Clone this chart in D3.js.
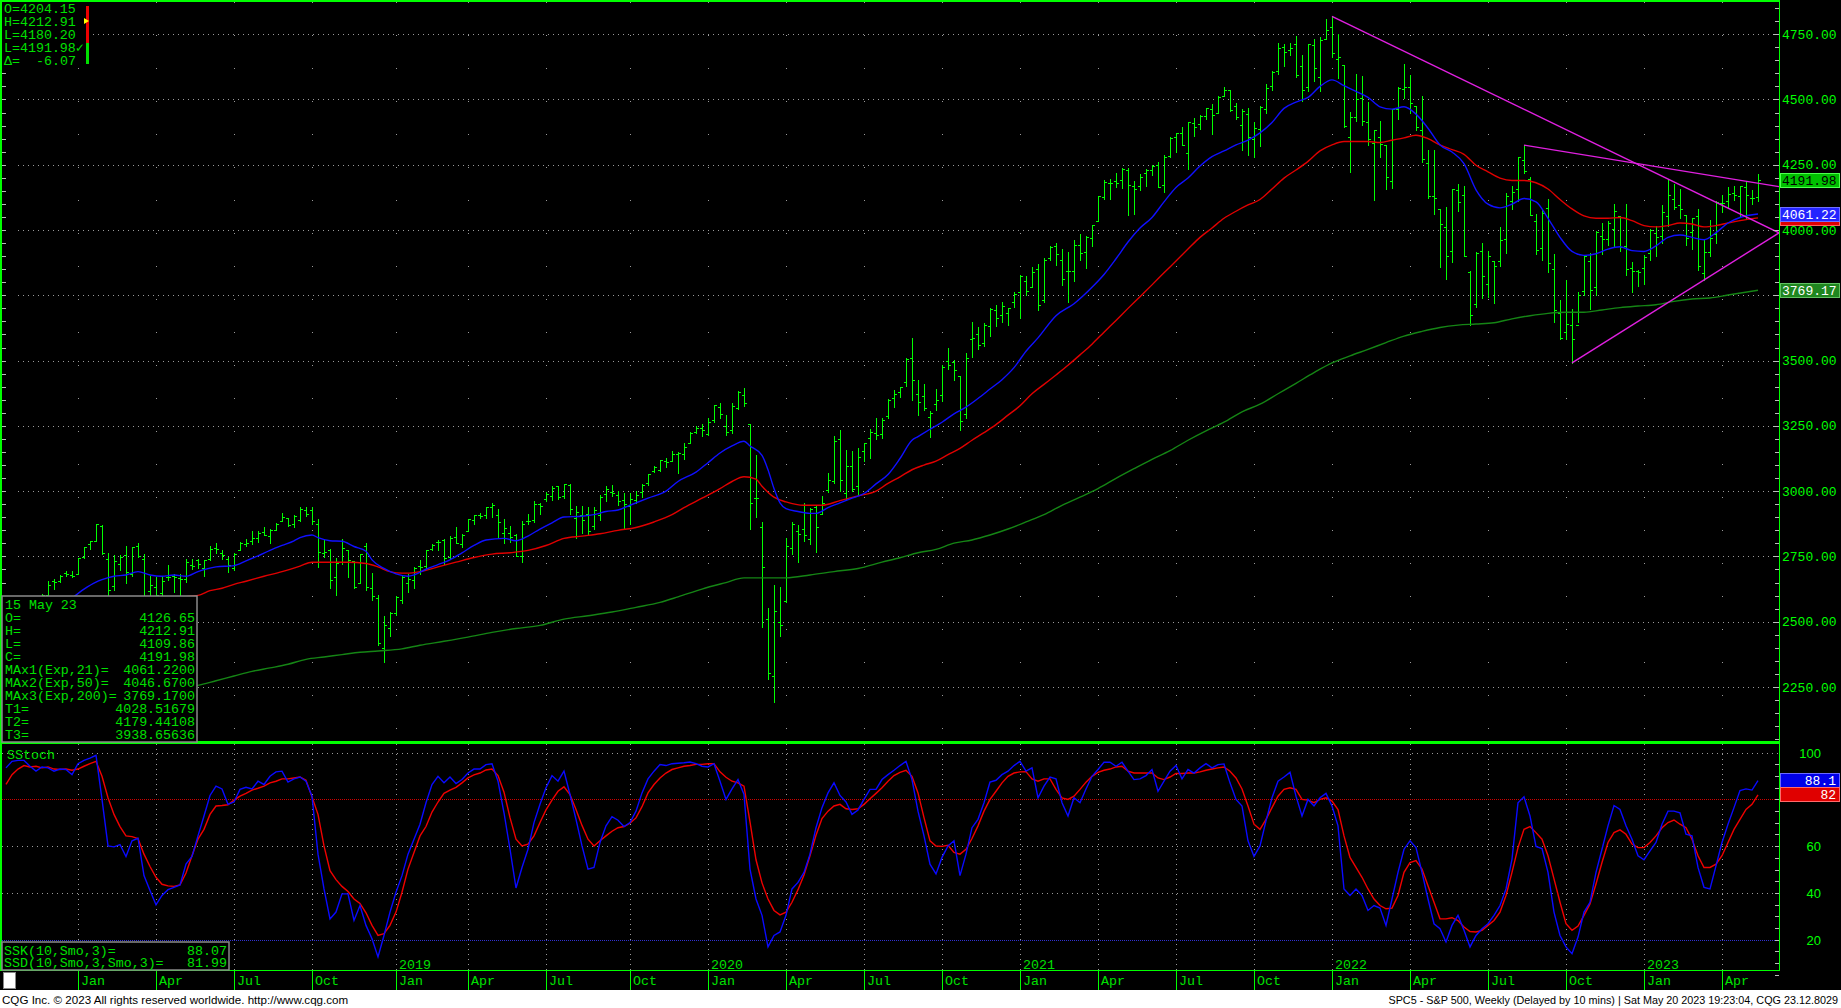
<!DOCTYPE html>
<html><head><meta charset="utf-8">
<script src="https://cdn.jsdelivr.net/npm/d3@7/dist/d3.min.js"></script>
<style>html,body{margin:0;padding:0;background:#000;overflow:hidden}svg{display:block}</style>
</head><body>
<svg id="chart" width="1841" height="1008" xmlns="http://www.w3.org/2000/svg"></svg>
<script>
// ---------------- DATA (weekly S&P 500, first bar = week of 2017-10-09) ----------------
const firstWeekISO = "2017-10-09";
const opens = [
2550,2555,2578,2583,2588,2580,2582,2603,2657,2655,2685,2679,
2684,2746,2799,2810,2867,2741,2636,2722,2757,2681,2791,2741,2619,2634,2611,2670,2675,2669,2663,2718,2735,2706,2741,2781,2765,2742,2704,2776,2797,2808,2821,2845,2827,2853,2885,2897,2875,2891,2926,2926,2876,2764,2774,2671,2727,2773,2733,2650,2790,2630,2591,2401,2476,
2535,2583,2650,2659,2713,2712,2780,2805,2814,2747,2823,2796,2848,2888,2908,2907,2941,2908,2840,2841,2831,2752,2886,2889,2952,2971,2980,3018,2983,3024,2898,2907,2913,2867,2910,2989,2997,2984,2967,2944,2965,2997,3033,3078,3081,3117,3117,3144,3141,3183,3227,3240,
3217,3271,3321,3248,3235,3318,3370,3257,2974,2863,2509,2291,2498,2578,2782,2846,2854,2815,2940,2913,3005,3038,3199,2993,3095,3018,3155,3205,3224,3219,3289,3357,3380,3419,3509,3371,3363,3285,3333,3367,3500,3494,3441,3297,3583,3601,3566,3634,3694,3675,3684,3723,
3764,3803,3781,3851,3732,3892,3939,3886,3842,3845,3943,3916,3969,4034,4125,4179,4186,4192,4229,4170,4170,4217,4229,4248,4174,4285,4356,4373,4296,4410,4407,4438,4462,4450,4514,4536,4474,4402,4443,4348,4386,4463,4553,4610,4701,4689,4712,4628,4548,4710,4587,4733,
4778,4656,4632,4357,4432,4506,4413,4332,4355,4327,4188,4462,4541,4547,4474,4385,4255,4130,4082,4013,3920,4152,4134,3839,3716,3920,3793,3880,3883,3966,4112,4156,4270,4195,4034,3930,4084,3849,3682,3610,3636,3638,3765,3881,3780,3978,3966,4005,4053,3940,3853,3843,
3853,3911,3988,3979,4055,4119,4096,4056,3992,4055,3835,3917,3983,4102,4110,4140,4132,4166,4124,4126.65];
const highs = [
2555,2576,2582,2588,2597,2590,2605,2657,2665,2680,2695,2693,
2744,2787,2811,2873,2871,2764,2755,2754,2790,2787,2802,2761,2675,2672,2676,2718,2683,2682,2742,2742,2742,2737,2791,2801,2774,2746,2764,2804,2816,2848,2849,2863,2855,2877,2916,2898,2909,2941,2939,2940,2892,2816,2779,2745,2816,2775,2733,2760,2800,2686,2601,2520,2539,
2598,2675,2681,2710,2738,2776,2796,2814,2816,2830,2861,2836,2893,2910,2917,2940,2954,2932,2892,2868,2835,2885,2911,2964,2956,2996,3018,3018,3028,3029,2945,2943,2940,2941,2985,3021,3022,2999,2993,2993,3000,3027,3067,3097,3121,3128,3154,3150,3183,3226,3248,3259,
3282,3330,3338,3293,3337,3385,3394,3259,3137,2883,2554,2641,2632,2819,2880,2870,2955,2934,2945,2981,3068,3212,3233,3156,3155,3166,3186,3238,3280,3280,3352,3387,3400,3509,3588,3425,3409,3307,3393,3482,3550,3502,3441,3530,3646,3628,3645,3702,3712,3726,3703,3761,
3827,3823,3860,3870,3894,3938,3950,3929,3914,3960,3983,3978,4020,4130,4192,4195,4219,4238,4237,4188,4213,4234,4249,4262,4286,4356,4372,4393,4415,4429,4441,4468,4481,4514,4546,4536,4486,4465,4466,4412,4476,4560,4608,4718,4714,4718,4744,4672,4714,4731,4741,4808,
4819,4749,4632,4453,4596,4589,4490,4385,4416,4327,4465,4546,4637,4594,4475,4513,4308,4307,4082,4090,4159,4178,4168,3843,3914,3951,3918,3880,4013,4140,4167,4281,4325,4203,4062,4076,4119,3907,3733,3807,3698,3762,3905,3912,3998,4028,4034,4101,4053,4101,3877,3846,
3906,4003,4015,4095,4195,4176,4159,4056,4048,4079,3963,4039,4110,4134,4164,4170,4170,4187,4154,4212.91];
const lows = [
2543,2547,2544,2566,2566,2557,2578,2597,2624,2651,2676,2670,
2683,2745,2778,2808,2758,2533,2622,2698,2647,2676,2749,2586,2594,2553,2587,2660,2612,2594,2652,2701,2707,2676,2736,2764,2742,2692,2698,2774,2790,2796,2805,2832,2802,2850,2885,2865,2864,2887,2904,2875,2710,2749,2628,2604,2722,2671,2631,2649,2621,2584,2409,2347,2444,
2524,2570,2612,2631,2682,2705,2774,2775,2722,2740,2800,2785,2848,2873,2896,2898,2901,2825,2801,2805,2750,2728,2873,2880,2912,2964,2966,2970,2973,2914,2822,2840,2834,2856,2891,2964,2980,2946,2856,2874,2953,2979,3023,3074,3079,3091,3115,3070,3123,3183,3224,3213,
3215,3264,3280,3214,3224,3315,3328,2855,2902,2479,2281,2192,2447,2577,2761,2727,2810,2798,2767,2913,2996,3032,2999,2965,2999,2985,3114,3128,3199,3204,3280,3323,3359,3404,3350,3293,3311,3209,3310,3345,3468,3425,3234,3280,3512,3543,3557,3595,3633,3647,3636,3707,
3663,3750,3781,3694,3725,3884,3866,3789,3723,3806,3884,3853,3937,4034,4118,4118,4165,4160,4057,4061,4155,4168,4210,4165,4144,4278,4300,4327,4233,4360,4386,4425,4368,4450,4513,4457,4427,4306,4289,4279,4323,4448,4537,4596,4630,4672,4585,4495,4532,4571,4532,4733,
4663,4582,4395,4223,4417,4401,4327,4115,4279,4157,4161,4424,4507,4450,4382,4262,4124,4062,3859,3811,3876,4074,3900,3637,3705,3741,3743,3722,3863,3911,4080,4112,4218,4057,3907,3886,3838,3648,3584,3584,3492,3647,3752,3698,3750,3907,3943,3940,3918,3828,3764,3784,
3795,3885,3902,3950,4015,4080,4048,3943,3928,3846,3809,3900,3952,4069,4086,4114,4049,4048,4098,4109.86];
const closes = [
2553,2575,2581,2588,2582,2579,2602,2642,2652,2676,2683,2674,
2743,2786,2810,2873,2762,2620,2732,2747,2691,2787,2752,2588,2641,2604,2656,2670,2670,2663,2728,2713,2721,2735,2779,2779,2755,2718,2760,2801,2802,2819,2840,2833,2850,2875,2902,2872,2905,2930,2914,2886,2767,2768,2659,2723,2781,2736,2633,2760,2633,2600,2417,2486,2532,
2596,2671,2665,2707,2708,2776,2793,2804,2743,2822,2801,2834,2893,2907,2905,2940,2946,2881,2860,2826,2752,2873,2887,2950,2942,2990,3014,2977,3026,2932,2919,2889,2847,2926,2979,3007,2992,2962,2952,2970,2986,3023,3067,3093,3120,3110,3141,3146,3169,3221,3240,3235,
3265,3330,3295,3226,3328,3380,3338,2954,2972,2711,2305,2541,2489,2790,2875,2837,2831,2930,2864,2955,3044,3194,3041,3098,3009,3130,3185,3225,3216,3271,3351,3373,3397,3508,3427,3341,3319,3298,3348,3477,3484,3465,3270,3509,3585,3558,3638,3699,3663,3709,3703,3756,
3825,3768,3841,3714,3887,3935,3907,3811,3842,3943,3913,3975,4020,4129,4185,4180,4181,4233,4174,4156,4204,4230,4247,4166,4281,4352,4370,4327,4412,4395,4437,4468,4442,4509,4535,4459,4433,4455,4357,4391,4471,4545,4605,4698,4683,4698,4595,4538,4712,4621,4726,4766,
4677,4663,4398,4432,4501,4419,4349,4385,4329,4204,4463,4543,4546,4488,4393,4272,4132,4123,4024,3901,4158,4109,3901,3675,3912,3825,3899,3863,3962,4130,4145,4280,4228,4058,3924,4067,3873,3693,3586,3640,3583,3753,3901,3771,3993,3965,4026,4072,3934,3852,3845,3840,
3895,3999,3973,4071,4136,4090,4079,3970,4046,3862,3917,3971,4109,4105,4138,4134,4169,4136,4124,4191.98];

// moving averages: [weeks after 2018-01-01, value]
const ema21 = [[-1,2590],[1,2625],[3,2652],[4,2661],[6,2674],[8,2679],[10,2692],[12,2679],[14,2674],[16,2679],[18,2674],[20,2692],[23,2710],[26,2715],[28,2733],[30,2752],[32,2773],[34,2792],[36,2810],[37,2822],[39,2832],[40,2822],[42,2810],[44,2808],[46,2788],[48,2770],[49,2737],[51,2704],[53,2683],[55,2674],[56,2679],[58,2701],[60,2719],[62,2737],[64,2764],[66,2792],[68,2813],[71,2819],[73,2810],[75,2828],[77,2855],[79,2879],[81,2901],[84,2904],[86,2910],[88,2922],[90,2928],[92,2946],[95,2973],[98,3000],[100,3037],[103,3073],[105,3109],[107,3146],[109,3173],[111,3191],[112,3173],[114,3137],[115,3082],[116,3010],[117,2955],[118,2933],[120,2922],[122,2915],[123,2915],[125,2937],[127,2955],[129,2973],[131,2991],[133,3028],[135,3064],[137,3125],[139,3195],[140,3209],[142,3237],[144,3264],[146,3296],[148,3322],[150,3355],[152,3391],[154,3427],[156,3473],[158,3536],[160,3587],[163,3672],[166,3718],[169,3781],[171,3830],[173,3890],[175,3954],[177,4008],[179,4048],[181,4108],[183,4163],[185,4199],[187,4245],[189,4281],[191,4303],[193,4326],[195,4344],[197,4372],[199,4412],[201,4466],[203,4490],[205,4508],[207,4550],[209,4575],[211,4553],[213,4531],[215,4508],[217,4472],[219,4463],[221,4472],[223,4444],[225,4390],[227,4326],[229,4299],[231,4254],[233,4154],[235,4099],[237,4085],[239,4099],[241,4121],[243,4108],[245,4045],[247,3972],[249,3918],[251,3903],[253,3909],[255,3927],[257,3936],[259,3921],[261,3918],[263,3939],[265,3972],[267,3981],[269,3972],[271,3963],[273,3990],[275,4027],[277,4048],[280,4061.22]];
const ema50 = [[10,2570],[14,2590],[20,2601],[22,2619],[24,2628],[26,2643],[28,2655],[31,2674],[34,2692],[37,2713],[39,2728],[42,2728],[45,2728],[48,2723],[50,2710],[52,2692],[54,2686],[55,2686],[57,2692],[60,2710],[63,2728],[66,2746],[69,2759],[72,2764],[75,2773],[78,2792],[81,2819],[84,2828],[87,2837],[90,2850],[93,2861],[96,2882],[99,2910],[101,2937],[104,2973],[107,3010],[109,3037],[111,3055],[113,3046],[114,3019],[116,2977],[118,2959],[121,2946],[124,2946],[127,2964],[130,2982],[133,3000],[135,3030],[137,3055],[139,3082],[141,3100],[143,3115],[145,3140],[147,3164],[149,3195],[151,3224],[153,3255],[155,3291],[157,3327],[159,3373],[161,3409],[163,3445],[165,3482],[167,3522],[169,3563],[171,3609],[173,3654],[175,3700],[177,3745],[179,3790],[181,3836],[183,3881],[185,3927],[187,3972],[189,4008],[191,4045],[193,4072],[195,4096],[197,4117],[199,4157],[201,4199],[203,4230],[205,4263],[207,4303],[209,4326],[211,4339],[213,4339],[215,4339],[217,4335],[219,4344],[221,4353],[223,4363],[225,4350],[227,4326],[229,4308],[231,4290],[233,4248],[235,4223],[237,4199],[239,4190],[241,4190],[243,4181],[245,4157],[247,4117],[249,4081],[251,4054],[253,4045],[255,4045],[257,4048],[259,4036],[261,4017],[263,4012],[265,4017],[267,4027],[269,4023],[271,4012],[273,4017],[275,4027],[277,4036],[280,4046.67]];
const ema200 = [[18,2245],[20,2256],[23,2274],[26,2292],[29,2310],[32,2323],[35,2337],[38,2356],[41,2365],[44,2374],[47,2383],[50,2388],[54,2396],[57,2410],[61,2425],[65,2441],[69,2459],[73,2474],[77,2486],[81,2510],[85,2523],[89,2537],[93,2555],[97,2574],[100,2595],[104,2625],[108,2650],[111,2668],[114,2668],[118,2668],[122,2679],[126,2692],[130,2704],[134,2728],[137,2745],[140,2764],[143,2777],[146,2801],[149,2813],[152,2832],[155,2855],[158,2882],[161,2910],[164,2946],[167,2977],[170,3010],[173,3049],[176,3086],[179,3122],[182,3155],[185,3195],[188,3231],[191,3264],[194,3304],[197,3333],[200,3373],[203,3413],[206,3454],[209,3491],[212,3518],[215,3543],[218,3569],[221,3594],[224,3612],[227,3627],[230,3636],[233,3640],[236,3645],[239,3660],[242,3672],[245,3681],[248,3685],[251,3685],[254,3694],[257,3703],[260,3709],[263,3714],[266,3727],[269,3736],[272,3740],[275,3751],[280,3769.17]];
const emaLast = [4061.22, 4046.67, 3769.17];

// trend lines
const trendStart = ["2022-01-03","2022-08-15","2022-10-10"];
const trendStartVal = [4818.62, 4325.28, 3491.58];
const trendLastVal = [4028.51679, 4179.44108, 3938.65636];

// smoothed stochastic, weekly
const stochK = [
93.5,96.3,96.7,96.7,94.2,92.1,93.9,93.5,92.1,93,92.8,90.6,
95.3,96.7,97.7,98.9,80,60.1,59.7,60.7,55.6,62.3,
63.4,47.4,41,34.9,38.9,41.4,42.4,43.4,52.3,55.6,
64.4,72.9,81.7,85.7,84.5,77.9,78.9,84.3,85.2,84.5,
87.8,86.4,89.9,91.8,92.1,87.4,88.8,89.6,87.8,81.4,
56.6,41.7,28.9,31.8,39.6,39.6,28.2,34.6,26.1,20.4,
12.6,21.8,31.8,40.3,47.4,56.6,63,69.4,78.6,86.4,
89.9,87.1,89.6,86.8,88.5,91.3,93,93,94.9,95.3,
87.8,74.3,58.7,42.1,50.9,58.7,70.1,77.9,85,90.2,
87.8,92.1,82.1,71.5,60.1,50.2,50.9,61.6,68.7,72.6,
71.1,68.4,70.1,75,82.8,88.8,92.1,94.9,94.5,95.3,
95.5,95.7,96,95.3,94.2,93.9,95.3,87.8,80,84.5,
88.5,82.1,50.2,37.4,30.4,16.9,21.8,23.3,30.4,41.7,
44.5,48.8,56.6,67.9,76.5,82.8,87.1,81.7,78.9,73.6,
75.5,80,84.3,84.3,88.5,90.6,92.5,94.5,96.3,88.5,
75,64.4,52.3,48.1,55.2,60.1,62.3,47.4,56.6,67.9,
71.5,78.6,87.4,88.2,90.6,92.1,94.5,96.3,92.1,93.5,
80.7,85.7,89.6,88.8,78.6,72.9,80.7,78.6,84.5,89.9,
92.8,95.9,95.9,94.2,95.9,92.1,88.5,88.8,90.2,92.8,
83.5,87.8,92.1,94.5,88.8,92.8,91.3,93.5,95.3,93.5,
94.9,95.2,87.1,80,77.2,62.3,55.6,60.1,70.8,80.7,
87.8,89.6,91.6,81.4,72.9,80,77.2,80.7,82.6,77.2,
68.7,41.7,38.9,41.7,38.9,32.5,34.6,33.5,26.1,37.4,
48.8,58.7,62.3,59.4,48.8,37.4,26.8,24.7,19,26.1,
30.4,24,16.9,21.8,24.7,26.8,30.4,34.6,41.7,54.5,
78.6,81.1,72.9,59.9,59,48.8,31.8,21.8,16.9,14,
21.1,31.8,36,48.8,58.7,68.7,77.4,75.7,68.7,63,
55.9,54.2,58,61.6,69.4,75,75,74.3,65.1,64.4,
50.9,42.4,41.7,51.6,61.6,69.4,76.5,83.8,84.5,84,
88.07];
const stochD = [
86.4,90.6,93,94.5,93.9,94.2,93.5,93.9,93,92.8,93,92.5,
93,94.2,95.3,96.3,89.9,80.7,73.6,68.4,64.4,64.1,
63.3,56.6,51.3,46.7,43.7,43,42.8,43.4,48.5,55.9,
63,67.2,73.6,77.2,77.4,77.7,79.7,81.4,82.6,84,
84.8,85.7,87.1,87.8,88.8,88.8,89.2,89.6,88.2,81.1,
73.6,60.1,49.5,45.7,42.8,40.6,37.4,35.5,31.5,26.1,
21.8,22.6,26.1,31.8,40.3,50.2,57.3,64.4,68.4,74.6,
78.9,82.6,84,85.2,87.1,89.2,90.5,91.3,92.6,93,
90.2,83.1,72.2,63,60.1,60.9,64.4,70.1,75.5,79.7,
83.5,85.4,82.1,75.7,68.9,63,60.1,62.3,64.4,66.4,
67.9,68.4,69.8,72.1,76.9,82.8,86.4,89.2,91.3,92.8,
93.5,94.2,94.5,95,95,95.3,95.3,91.8,89.5,87.8,
87.1,85.7,70.4,54.2,44.3,37.4,32.5,30.6,31.8,36,
41.4,47.7,55.9,64.7,71.8,75,77.2,77.9,76,75.7,
76,77.9,80.3,82.6,85,87.8,90.2,91.6,92.5,89.9,
82.8,72.2,62.3,60.1,59.9,60.4,57.3,56.6,58.7,63.3,
68.7,75,80,83.5,87.1,89.9,91.3,91.8,91.9,88.8,
87.8,88.8,88.8,84.3,80.7,80,81.4,84.3,87.4,89.9,
91.6,92.5,93,93.9,94.2,92.1,91.3,91.3,91.3,91.3,
89.2,88.5,89.6,91.1,91.1,91.3,91.3,91.8,92.5,93,
93.5,93.9,92.1,89.2,84.5,77.2,69.4,67.2,71.5,76.5,
81.4,84.3,85,84.3,80,79.7,78.6,80,80.7,79.3,
75.7,64.4,55.2,50.9,46.7,41.7,37.4,34.6,33.2,33.5,
38.9,48.8,53,53.8,50.2,43.1,36,28.9,28.9,29.4,
28.2,25.4,23.5,23.3,24,26.1,28.2,31.8,38.9,48.8,
59.4,67.2,68.4,65.8,63,55.9,46,36,26.8,24,
25.8,30.4,35.3,43.8,53,61.6,65.8,67,65.1,60.9,
59.4,59.4,61.6,64.4,67.9,70.1,71.2,69.4,67.9,63,
55.9,50.9,50.9,52.3,55.9,61.6,67.2,71.5,75.7,77.9,
81.99];

// axis tick values & texts
const priceTicks = [2250,2500,2750,3000,3250,3500,3750,4000,4250,4500,4750];
const stochTicks = [20,40,60,100];
const monthNames = ["Jan","Apr","Jul","Oct"];
const lastTickLabels = ["O=","H=","L=","L="];
const lastTickVals = [4204.15, 4212.91, 4180.20, 4191.98];
const lastTickChange = -6.07;
const footerLeft = "CQG Inc. \u00A9 2023 All rights reserved worldwide. http://www.cqg.com";
const footerRight = "SPC5 - S&P 500, Weekly (Delayed by 10 mins) | Sat May 20 2023 19:23:04, CQG 23.12.8029";

// ---------------- RENDER ----------------
const MONO = "'Liberation Mono','DejaVu Sans Mono',monospace";
const SANS = "'Liberation Sans',Arial,sans-serif";
const GREEN = "#00ff00", TXT = "#00e000";
const svg = d3.select("#chart");
svg.append("rect").attr("width",1841).attr("height",1008).attr("fill","#000");

const parse = d3.utcParse("%Y-%m-%d");
const firstWeek = parse(firstWeekISO);
const base = parse("2018-01-01");
const weeks = closes.map((_,k)=>d3.utcMonday.offset(firstWeek,k));
const lastIdx = closes.length-1;
const lastDate = weeks[lastIdx];
const wk = n => d3.utcMonday.offset(base, n);

const PL=2, PR=1779, PT=2, PB=741, ST=744, SB=970;
const x = d3.scaleUtc().domain([base,lastDate]).range([78,1758]);
const y = d3.scaleLinear().domain([2250,4750]).range([687,34.2]);
const ys = d3.scaleLinear().domain([0,100]).range([986.4,752.7]);
const px = v => Math.round(v)+0.5;

const defs = svg.append("defs");
defs.append("clipPath").attr("id","cm").append("rect").attr("x",PL).attr("y",PT).attr("width",PR-PL).attr("height",PB-PT);
defs.append("clipPath").attr("id","cs").append("rect").attr("x",PL).attr("y",ST).attr("width",PR-PL).attr("height",SB-ST);

const qTicks = weeks.filter(d => [0,3,6,9].includes(d.getUTCMonth()) && d.getUTCDate() <= 7);

// grid
const grid = svg.append("g").attr("shape-rendering","crispEdges");
grid.selectAll(".gh").data(priceTicks).join("line")
  .attr("x1",PL+16).attr("x2",PR).attr("y1",d=>px(y(d))).attr("y2",d=>px(y(d)))
  .attr("stroke","#9a9a9a").attr("stroke-dasharray","1,4");
grid.selectAll(".gv").data(qTicks).join("line")
  .attr("x1",d=>px(x(d))).attr("x2",d=>px(x(d))).attr("y1",PT).attr("y2",PB)
  .attr("stroke","#9a9a9a").attr("stroke-dasharray","1,32");
grid.selectAll(".gvs").data(qTicks).join("line")
  .attr("x1",d=>px(x(d))).attr("x2",d=>px(x(d))).attr("y1",ST).attr("y2",SB)
  .attr("stroke","#9a9a9a").attr("stroke-dasharray","1,4");
[[100,"#9a9a9a","1,4"],[60,"#9a9a9a","1,4"],[40,"#9a9a9a","1,4"],[80,"#d00000","1,1"],[20,"#3030d0","1,1"]].forEach(([v,c,da])=>{
  grid.append("line").attr("x1",PL).attr("x2",PR).attr("y1",px(ys(v))).attr("y2",px(ys(v)))
    .attr("stroke",c).attr("stroke-dasharray",da);
});

// price bars
const main = svg.append("g").attr("clip-path","url(#cm)");
main.append("path").attr("shape-rendering","crispEdges").attr("fill","none").attr("stroke",GREEN).attr("stroke-width",1)
  .attr("d", weeks.map((d,k)=>{
    const X = px(x(d));
    return `M${X},${Math.round(y(highs[k]))}V${Math.round(y(lows[k]))+1}` +
           `M${X-2.5},${px(y(opens[k]))}H${X}` +
           `M${X},${px(y(closes[k]))}H${X+2.5}`;
  }).join(""));

// moving averages
const maLine = d3.line().x(d=>x(wk(d[0]))).y(d=>y(d[1])).curve(d3.curveMonotoneX);
[[ema200,"#158515"],[ema50,"#e00000"],[ema21,"#1010ff"]].forEach(([data,c])=>{
  main.append("path").attr("d",maLine(data)).attr("fill","none").attr("stroke",c).attr("stroke-width",1.4);
});

// trend lines
const xEnd = x.invert(PR);
trendStart.forEach((s,k)=>{
  const t0 = parse(s), v0 = trendStartVal[k], v1 = trendLastVal[k];
  const vEnd = v0 + (v1-v0)*(xEnd-t0)/(lastDate-t0);
  main.append("line").attr("x1",x(t0)).attr("y1",y(v0)).attr("x2",x(xEnd)).attr("y2",y(vEnd))
    .attr("stroke","#e020e0").attr("stroke-width",1.4);
});

// stochastic
const st = svg.append("g").attr("clip-path","url(#cs)");
const sLine = d3.line().x((d,k)=>x(weeks[k])).y(d=>ys(d));
st.append("path").attr("d",sLine(stochD)).attr("fill","none").attr("stroke","#f00000").attr("stroke-width",1.4);
st.append("path").attr("d",sLine(stochK)).attr("fill","none").attr("stroke","#0a0aff").attr("stroke-width",1.4);

// frames
const fr = svg.append("g").attr("shape-rendering","crispEdges");
fr.append("line").attr("x1",0).attr("x2",PR).attr("y1",1).attr("y2",1).attr("stroke",GREEN).attr("stroke-width",2);
fr.append("line").attr("x1",1).attr("x2",1).attr("y1",0).attr("y2",SB).attr("stroke",GREEN).attr("stroke-width",2);
fr.append("line").attr("x1",0).attr("x2",PR).attr("y1",742.5).attr("y2",742.5).attr("stroke",GREEN).attr("stroke-width",3);
fr.append("line").attr("x1",0).attr("x2",PR+1).attr("y1",970.5).attr("y2",970.5).attr("stroke",GREEN).attr("stroke-width",1);
fr.append("line").attr("x1",PR+0.5).attr("x2",PR+0.5).attr("y1",0).attr("y2",SB).attr("stroke",GREEN).attr("stroke-width",1);

// price axis ticks and labels
const ax = svg.append("g").attr("shape-rendering","crispEdges");
ax.selectAll(".mt").data(d3.range(2050,4851,50)).join("line")
  .attr("x1",d=>d%250===0?PR-6:PR-4).attr("x2",PR).attr("y1",d=>px(y(d))).attr("y2",d=>px(y(d))).attr("stroke","#bbbbbb");
ax.selectAll(".lt").data(d3.range(2050,4851,50)).join("line")
  .attr("x1",PL).attr("x2",PL+4).attr("y1",d=>px(y(d))).attr("y2",d=>px(y(d))).attr("stroke","#bbbbbb");

// value boxes on the price axis
const boxes = [
  {v: closes[lastIdx], bg:"#00c000", bd:"#50ff50", fg:"#000", label: closes[lastIdx].toFixed(2)},
  {v: emaLast[1], bg:"#e00000", bd:"#ff6060", fg:null, label: null},        // hidden under the MAx1 box
  {v: emaLast[0], bg:"#2424ff", bd:"#7070ff", fg:"#fff", label: emaLast[0].toFixed(2)},
  {v: emaLast[2], bg:"#1f861f", bd:"#60c060", fg:"#fff", label: emaLast[2].toFixed(2)}
];
const hidden = v => boxes.some(b => Math.abs(y(b.v)-y(v)) < 10);
svg.append("g").selectAll("text").data(priceTicks.filter(v=>!hidden(v))).join("text")
  .attr("x",1782).attr("y",d=>y(d)+4.5).text(d=>d.toFixed(2))
  .attr("font-family",MONO).attr("font-size",13).attr("fill",GREEN);
boxes.forEach(b=>{
  const cy = Math.round(y(b.v));
  svg.append("rect").attr("x",1780.5).attr("y",cy-6.5).attr("width",59).attr("height",14).attr("fill",b.bg).attr("stroke",b.bd);
  if (b.label) svg.append("text").attr("x",1782).attr("y",cy+4.5).text(b.label).attr("font-family",MONO).attr("font-size",13).attr("fill",b.fg);
});

// stoch axis
ax.selectAll(".st").data(d3.range(5,100,5)).join("line")
  .attr("x1",PR-4).attr("x2",PR).attr("y1",d=>px(ys(d))).attr("y2",d=>px(ys(d))).attr("stroke","#bbbbbb");
svg.append("g").selectAll("text").data(stochTicks).join("text")
  .attr("x",1821).attr("y",d=>ys(d)+5).attr("text-anchor","end").text(d=>d)
  .attr("font-family",SANS).attr("font-size",13).attr("fill",GREEN);
const sbox = (v, bg, bd, label) => {
  const cy = Math.round(ys(v));
  svg.append("rect").attr("x",1780.5).attr("y",cy-7.5).attr("width",59).attr("height",14).attr("fill",bg).attr("stroke",bd);
  svg.append("text").attr("x",1836).attr("y",cy+4).attr("text-anchor","end").text(label).attr("font-family",MONO).attr("font-size",13).attr("fill","#fff");
};
sbox(stochK[lastIdx], "#0000e8", "#6a6aff", String(+stochK[lastIdx].toFixed(1)));
sbox(stochD[lastIdx], "#e00000", "#ff6a6a", String(+stochD[lastIdx].toFixed(1)));

// date axis
const da = svg.append("g");
da.selectAll("line").data(qTicks).join("line").attr("shape-rendering","crispEdges")
  .attr("x1",d=>px(x(d))).attr("x2",d=>px(x(d))).attr("y1",971).attr("y2",990).attr("stroke",GREEN);
da.selectAll(".ml").data(qTicks).join("text")
  .attr("x",d=>x(d)+3).attr("y",985).text(d=>monthNames[d.getUTCMonth()/3])
  .attr("font-family",MONO).attr("font-size",13.3).attr("fill",TXT);
// year labels (the first one sits under the stochastic legend box and is not shown)
da.selectAll(".yl").data(qTicks.filter(d=>d.getUTCMonth()===0 && x(d) > 232)).join("text")
  .attr("x",d=>x(d)+3).attr("y",968.5).text(d=>d.getUTCFullYear())
  .attr("font-family",MONO).attr("font-size",13.3).attr("fill",TXT);
svg.append("rect").attr("x",3.5).attr("y",972.5).attr("width",12).attr("height",16).attr("fill","#fff").attr("stroke","#888");

// top-left last-tick legend
const tl = svg.append("g");
tl.append("rect").attr("x",2).attr("y",2).attr("width",90).attr("height",64).attr("fill","#000");
lastTickLabels.forEach((lab,k)=>{
  tl.append("text").attr("x",4).attr("y",12.5+13.2*k).text(lab+lastTickVals[k].toFixed(2)+(k===3?"\u2713":""))
    .attr("font-family",MONO).attr("font-size",13.3).attr("fill",TXT);
});
tl.append("text").attr("x",4).attr("y",12.5+13.2*4).text("\u0394=").attr("font-family",MONO).attr("font-size",13.3).attr("fill",TXT);
tl.append("text").attr("x",76).attr("y",12.5+13.2*4).attr("text-anchor","end").text(lastTickChange.toFixed(2)).attr("font-family",MONO).attr("font-size",13.3).attr("fill",TXT);
tl.append("rect").attr("x",86).attr("y",6).attr("width",3).attr("height",37).attr("fill","#ee0000");
tl.append("rect").attr("x",86).attr("y",43).attr("width",3).attr("height",21).attr("fill","#00e000");
tl.append("path").attr("d","M84,18L89,21L84,24Z").attr("fill","#ffff00");

// data window box
const db = svg.append("g");
db.append("rect").attr("x",2).attr("y",596).attr("width",195).attr("height",146).attr("fill","#000").attr("stroke","#8a8a8a").attr("stroke-width",1.5);
const fmtDate = d3.utcFormat("%d %b %y");
const rows = [
  ["O=", opens[lastIdx].toFixed(2)], ["H=", highs[lastIdx].toFixed(2)], ["L=", lows[lastIdx].toFixed(2)], ["C=", closes[lastIdx].toFixed(2)],
  ["MAx1(Exp,21)=", emaLast[0].toFixed(4)], ["MAx2(Exp,50)=", emaLast[1].toFixed(4)], ["MAx3(Exp,200)=", emaLast[2].toFixed(4)],
  ["T1=", trendLastVal[0].toFixed(5)], ["T2=", trendLastVal[1].toFixed(5)], ["T3=", trendLastVal[2].toFixed(5)]
];
db.append("text").attr("x",5).attr("y",608.5).text(fmtDate(lastDate)).attr("font-family",MONO).attr("font-size",13.3).attr("fill",TXT);
rows.forEach((r,k)=>{
  const yy = 621.5 + 13*k;
  db.append("text").attr("x",5).attr("y",yy).text(r[0]).attr("font-family",MONO).attr("font-size",13.3).attr("fill",TXT);
  db.append("text").attr("x",195).attr("y",yy).attr("text-anchor","end").text(r[1]).attr("font-family",MONO).attr("font-size",13.3).attr("fill",TXT);
});

// stoch title and legend
svg.append("text").attr("x",7).attr("y",758.5).text("SStoch").attr("font-family",MONO).attr("font-size",13.3).attr("fill",TXT);
const sl = svg.append("g");
sl.append("rect").attr("x",2).attr("y",942).attr("width",227).attr("height",28).attr("fill","#000").attr("stroke","#8a8a8a").attr("stroke-width",1.5);
[["SSK(10,Smo,3)=", stochK[lastIdx].toFixed(2)],["SSD(10,Smo,3,Smo,3)=", stochD[lastIdx].toFixed(2)]].forEach((r,k)=>{
  const yy = 954.5 + 12.7*k;
  sl.append("text").attr("x",4).attr("y",yy).text(r[0]).attr("font-family",MONO).attr("font-size",13.3).attr("fill",TXT);
  sl.append("text").attr("x",227).attr("y",yy).attr("text-anchor","end").text(r[1]).attr("font-family",MONO).attr("font-size",13.3).attr("fill",TXT);
});

// footer
svg.append("rect").attr("x",0).attr("y",990).attr("width",1841).attr("height",18).attr("fill","#fff");
svg.append("text").attr("x",2).attr("y",1003.5).text(footerLeft).attr("font-family",SANS).attr("font-size",11.6).attr("fill","#000");
svg.append("text").attr("x",1838).attr("y",1003.5).attr("text-anchor","end").text(footerRight).attr("font-family",SANS).attr("font-size",10.8).attr("fill","#000");
</script>
</body></html>
